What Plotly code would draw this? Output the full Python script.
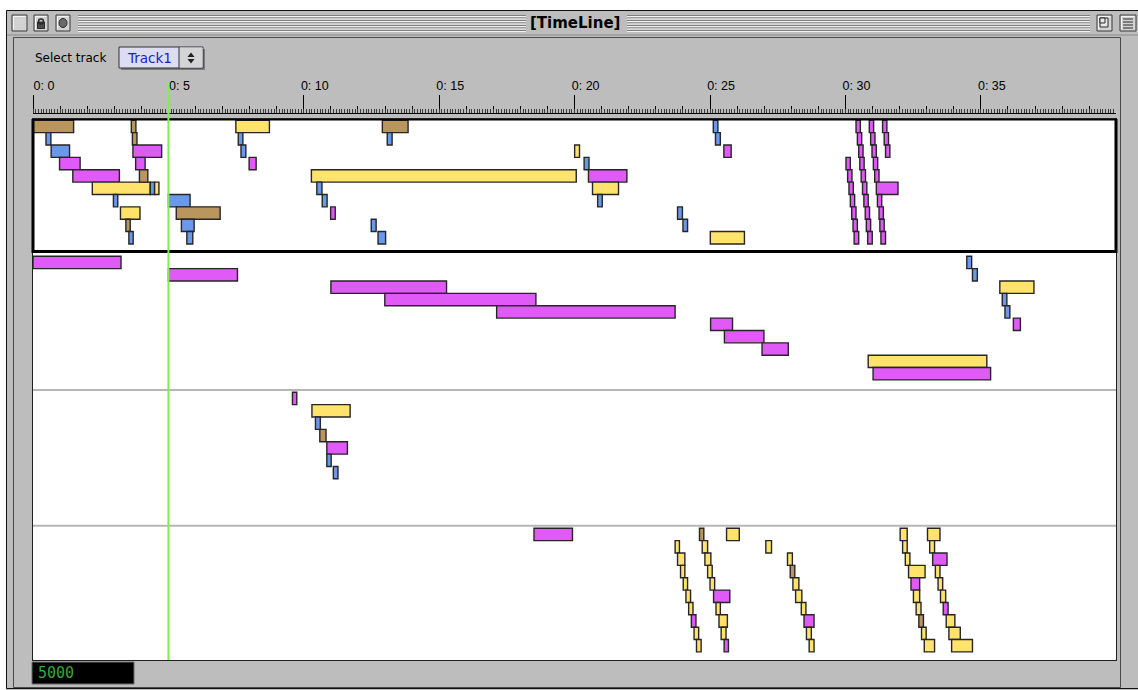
import plotly.graph_objects as go

# ------------------------------------------------------------------ data
TICK_VALS = [0, 5, 10, 15, 20, 25, 30, 35]
TICK_TEXT = ["0: 0", "0: 5", "0: 10", "0: 15", "0: 20", "0: 25", "0: 30", "0: 35"]
PLAYHEAD = 5.0
COUNTER = "5000"
TRACK_NAME = "Track1"
TIME_MAX = 39.99

# Track 1
T1_START = [0.00, 0.48, 0.67, 0.98, 1.47, 2.19, 4.33, 4.49, 2.97, 3.23, 3.43, 3.54,
            3.63, 3.67, 3.69, 3.79, 3.93, 5.00, 5.29, 5.48, 5.68, 7.49, 7.58, 7.68,
            7.98, 12.90, 13.08, 10.28, 10.48, 10.68, 10.99, 12.49, 12.74, 20.00, 20.35,
            20.51, 20.66, 20.85, 23.80, 24.00, 25.01, 25.12, 25.20, 25.51,
            30.02, 30.08, 30.13, 30.18, 30.23, 30.28, 30.32,
            30.39, 30.44, 30.49, 30.53, 30.58, 30.63, 30.68, 30.73, 30.77, 30.82,
            30.88, 30.93, 30.98, 31.03, 31.08, 31.14, 31.18, 31.24, 31.27, 31.31,
            31.37, 31.43, 31.48]
T1_END = [1.50, 0.66, 1.35, 1.74, 3.19, 4.33, 4.49, 4.65, 3.13, 3.95, 3.59, 3.70,
          3.80, 3.84, 4.75, 4.14, 4.24, 5.80, 6.91, 5.95, 5.90, 8.73, 7.75, 7.86,
          8.24, 13.85, 13.26, 20.06, 10.67, 10.86, 11.16, 12.67, 13.02, 20.18, 20.53,
          21.93, 21.62, 21.02, 23.98, 24.17, 26.27, 25.29, 25.38, 25.78,
          30.18, 30.24, 30.29, 30.34, 30.39, 30.44, 30.49,
          30.55, 30.60, 30.65, 30.69, 30.74, 30.79, 30.84, 30.89, 30.93, 30.99,
          31.04, 31.09, 31.14, 31.19, 31.24, 31.94, 31.34, 31.40, 31.43, 31.48,
          31.53, 31.59, 31.64]
T1_ROW = [0, 1, 2, 3, 4, 5, 5, 5, 6, 7, 8, 9,
          0, 1, 2, 3, 4, 6, 7, 8, 9, 0, 1, 2,
          3, 0, 1, 4, 5, 6, 7, 8, 9, 2, 3,
          4, 5, 6, 7, 8, 9, 0, 1, 2,
          3, 4, 5, 6, 7, 8, 9,
          0, 1, 2, 3, 4, 5, 6, 7, 8, 9,
          0, 1, 2, 3, 4, 5, 6, 7, 8, 9,
          0, 1, 2]
T1_KIND = ["B", "L", "L", "M", "M", "Y", "L", "Y", "L", "Y", "B", "L",
           "B", "B", "M", "M", "B", "L", "B", "L", "L", "Y", "L", "L",
           "M", "B", "L", "Y", "L", "L", "M", "L", "L", "Y", "L",
           "M", "Y", "L", "L", "L", "Y", "L", "L", "M",
           "M", "M", "M", "M", "M", "M", "M",
           "M", "M", "M", "M", "M", "M", "M", "M", "M", "M",
           "M", "M", "M", "M", "M", "M", "M", "M", "M", "M",
           "M", "M", "M"]

# Track 2
T2_START = [0.00, 5.00, 11.00, 12.99, 17.12, 25.02, 25.53, 26.92, 30.84, 31.02,
            34.48, 34.69, 35.70, 35.79, 35.89, 36.20]
T2_END = [3.25, 7.55, 15.27, 18.57, 23.71, 25.83, 26.99, 27.89, 35.22, 35.36,
          34.66, 34.87, 36.96, 35.96, 36.07, 36.46]
T2_ROW = [0, 1, 2, 3, 4, 5, 6, 7, 8, 9, 0, 1, 2, 3, 4, 5]
T2_KIND = ["M", "M", "M", "M", "M", "M", "M", "M", "Y", "M", "L", "L", "Y", "L", "L", "M"]

# Track 3
T3_START = [9.58, 10.30, 10.43, 10.59, 10.85, 10.85, 11.09]
T3_END = [9.74, 11.71, 10.61, 10.82, 11.61, 11.01, 11.26]
T3_ROW = [0, 1, 2, 3, 4, 5, 6]
T3_KIND = ["M", "Y", "L", "B", "M", "L", "L"]

# Track 4
T4_START = [18.50, 24.61, 25.61, 27.06,
            23.71, 23.80, 23.91, 24.01, 24.11, 24.21, 24.31, 24.41, 24.50,
            24.71, 24.81, 24.91, 25.00, 25.13, 25.22, 25.33, 25.41, 25.52,
            27.86, 27.96, 28.06, 28.16, 28.37, 28.47, 28.56, 28.66,
            32.02, 32.11, 32.21, 32.33, 32.42, 32.51, 32.61, 32.71, 32.81, 32.91,
            33.03, 33.11, 33.22, 33.32, 33.42, 33.51, 33.61, 33.72, 33.82, 33.92]
T4_END = [19.92, 24.77, 26.08, 27.27,
          23.87, 24.07, 24.07, 24.17, 24.28, 24.37, 24.48, 24.58, 24.67,
          24.91, 25.03, 25.08, 25.17, 25.73, 25.38, 25.64, 25.59, 25.68,
          28.04, 28.13, 28.28, 28.39, 28.54, 28.84, 28.74, 28.84,
          32.28, 32.28, 32.38, 32.94, 32.74, 32.74, 32.79, 32.88, 32.98, 33.29,
          33.49, 33.29, 33.75, 33.49, 33.59, 33.70, 33.79, 34.04, 34.24, 34.69]
T4_ROW = [0, 0, 0, 1,
          1, 2, 3, 4, 5, 6, 7, 8, 9,
          1, 2, 3, 4, 5, 6, 7, 8, 9,
          2, 3, 4, 5, 6, 7, 8, 9,
          0, 1, 2, 3, 4, 5, 6, 7, 8, 9,
          0, 1, 2, 3, 4, 5, 6, 7, 8, 9]
T4_KIND = ["M", "B", "Y", "Y",
           "Y", "Y", "Y", "Y", "Y", "Y", "M", "Y", "Y",
           "Y", "Y", "Y", "Y", "M", "Y", "Y", "Y", "M",
           "Y", "B", "Y", "Y", "Y", "M", "Y", "Y",
           "Y", "Y", "Y", "Y", "M", "Y", "Y", "B", "Y", "Y",
           "Y", "Y", "M", "Y", "Y", "Y", "M", "Y", "Y", "Y"]

COLORS = {"B": "#b8965e", "L": "#6a98ea", "M": "#e05af8", "Y": "#ffe36c"}

TRACKS = [
    (T1_START, T1_END, T1_ROW, T1_KIND),
    (T2_START, T2_END, T2_ROW, T2_KIND),
    (T3_START, T3_END, T3_ROW, T3_KIND),
    (T4_START, T4_END, T4_ROW, T4_KIND),
]

# ------------------------------------------------------------------ geometry
W, H = 1138, 690
ML, MR, MT, MB = 33, 22, 113, 30
PW = W - ML - MR
PH = H - MT - MB
DATA_TOP = 119
Y_DOMAIN_TOP = (H - MB - DATA_TOP) / PH
ROWS_PER_TRACK = 11
ROW_OFFSET = 0.105
Y_MAX = 43.76
GRAY = "#bdbdbd"


def px(x):
    return (x - ML) / PW


def py(y):
    return (H - MB - y) / PH


fig = go.Figure()

for k, (st, en, rw, kd) in enumerate(TRACKS):
    fig.add_trace(go.Bar(
        orientation="h",
        base=st,
        x=[e - s for s, e in zip(st, en)],
        y=[ROWS_PER_TRACK * k + ROW_OFFSET + r + 0.5 for r in rw],
        width=1.0,
        marker=dict(color=[COLORS[c] for c in kd],
                    line=dict(color="#262626", width=1.4)),
        hoverinfo="skip",
        showlegend=False,
    ))

# dummy traces so the ruler axes exist
for ax in ["x2", "x3", "x4"]:
    fig.add_trace(go.Scatter(x=[0, TIME_MAX], y=[-5, -5], xaxis=ax, yaxis="y",
                             mode="lines", line=dict(width=0), hoverinfo="skip",
                             showlegend=False))

shapes = []


def rect(x0, y0, x1, y1, fill=None, line=None, lw=1, layer="above"):
    d = dict(type="rect", xref="paper", yref="paper",
             x0=px(x0), x1=px(x1), y0=py(y0), y1=py(y1), layer=layer,
             line=dict(width=lw if line else 0, color=line or "rgba(0,0,0,0)"))
    d["fillcolor"] = fill if fill else "rgba(0,0,0,0)"
    shapes.append(d)


def hline(x0, x1, y, color, lw=1):
    shapes.append(dict(type="line", xref="paper", yref="paper",
                       x0=px(x0), x1=px(x1), y0=py(y), y1=py(y),
                       line=dict(color=color, width=lw)))


def vline(x, y0, y1, color, lw=1):
    shapes.append(dict(type="line", xref="paper", yref="paper",
                       x0=px(x), x1=px(x), y0=py(y0), y1=py(y1),
                       line=dict(color=color, width=lw)))


# outside of window (white)
rect(-1, -1, W + 1, 10, fill="white")
rect(-1, -1, 6, H + 1, fill="white")
# window outline
rect(6.5, 10.5, W + 2, H - 1.5, line="#101010", lw=1)
# content frame
rect(13.5, 37.5, 1120.5, 687.5, line="#4a4a4a", lw=1)
hline(7, W, 35, "#8a8a8a", 1)

# title bar stripes
for i in range(7):
    yy = 15.5 + i * 2.5
    hline(78, 526, yy, "#7e7e7e", 1)
    hline(78, 526, yy + 1, "#f2f2f2", 1)
    hline(627, 1090, yy, "#7e7e7e", 1)
    hline(627, 1090, yy + 1, "#f2f2f2", 1)

# title bar boxes
for (a, b) in [(12, 27), (34, 48), (56, 70), (1097, 1112), (1120, 1136)]:
    rect(a, 15, b, 31, fill="#d2d2d2", line="#3a3a3a", lw=1)
    hline(a + 1.5, b - 1.5, 16.5, "#f4f4f4", 1)
    vline(a + 1.5, 16.5, 29.5, "#f4f4f4", 1)
# lock icon
rect(37.5, 22, 44.5, 28.5, fill="#4a4a4a", line="#2a2a2a")
shapes.append(dict(type="circle", xref="paper", yref="paper",
                   x0=px(38.5), x1=px(43.5), y0=py(19), y1=py(24),
                   line=dict(color="#2a2a2a", width=1.5)))
# collapse icon
shapes.append(dict(type="circle", xref="paper", yref="paper",
                   x0=px(59), x1=px(67), y0=py(18.5), y1=py(27.5),
                   fillcolor="#6a6a6a", line=dict(color="#2a2a2a", width=1)))
# right icons
rect(1100, 18, 1108, 27, fill="#e8e8e8", line="#2a2a2a")
rect(1100, 18, 1105, 23, fill="#e8e8e8", line="#2a2a2a")
for yy in [19, 22, 25, 28]:
    hline(1123, 1133, yy, "#2a2a2a", 1)

# dropdown
rect(121, 49, 205, 70, fill="#7a7a7a")
rect(119, 47, 203, 68, fill="#dcdcf2", line="#303030", lw=1)
rect(179, 47.5, 202.5, 67.5, fill="#d4d4d4")
vline(179, 47, 68, "#303030", 1)
shapes.append(dict(type="path", xref="paper", yref="paper",
                   path="M {} {} L {} {} L {} {} Z".format(px(187.5), py(57), px(194.5), py(57),
                                                           px(191), py(52.5)),
                   fillcolor="#202020", line=dict(width=0)))
shapes.append(dict(type="path", xref="paper", yref="paper",
                   path="M {} {} L {} {} L {} {} Z".format(px(187.5), py(59), px(194.5), py(59),
                                                           px(191), py(63.5)),
                   fillcolor="#202020", line=dict(width=0)))

# counter box
rect(32, 662, 134, 684, fill="#000000", line="#6a6a6a", lw=1)

# track separators
for yv in [21.92, 32.9]:
    shapes.append(dict(type="line", xref="paper", yref="y", x0=0, x1=1, y0=yv, y1=yv,
                       line=dict(color="#b6b6b6", width=2), layer="below"))
# selected track frame
shapes.append(dict(type="rect", xref="paper", yref="y", x0=0, x1=1, y0=0, y1=10.72,
                   line=dict(color="#000000", width=3), fillcolor="rgba(0,0,0,0)"))
# playhead
shapes.append(dict(type="line", xref="x", yref="paper", x0=PLAYHEAD, x1=PLAYHEAD,
                   y0=0, y1=py(82), line=dict(color="#7ef04e", width=2)))

annotations = [
    dict(text="[TimeLine]", x=px(575), y=py(23.5), xref="paper", yref="paper",
         xanchor="center", yanchor="middle", showarrow=False,
         font=dict(family="DejaVu Sans", size=15, color="#000000", weight="bold")),
    dict(text="Select track", x=px(33), y=py(58), xref="paper", yref="paper",
         xanchor="left", yanchor="middle", showarrow=False,
         font=dict(family="DejaVu Sans", size=12, color="#000000")),
    dict(text=TRACK_NAME, x=px(125), y=py(57.5), xref="paper", yref="paper",
         xanchor="left", yanchor="middle", showarrow=False,
         font=dict(family="DejaVu Sans", size=13.5, color="#1c1cc8")),
    dict(text=COUNTER, x=px(36), y=py(673), xref="paper", yref="paper",
         xanchor="left", yanchor="middle", showarrow=False,
         font=dict(family="DejaVu Sans Mono", size=15, color="#35a835")),
]

common_hidden = dict(showgrid=False, zeroline=False)

fig.update_layout(
    width=W, height=H,
    margin=dict(l=ML, r=MR, t=MT, b=MB, pad=0),
    paper_bgcolor=GRAY, plot_bgcolor="#ffffff",
    showlegend=False, barmode="overlay",
    shapes=shapes, annotations=annotations,
    xaxis=dict(range=[0, TIME_MAX], showticklabels=False, ticks="", showline=True,
               linecolor="#202020", linewidth=1, mirror=True, fixedrange=True, **common_hidden),
    yaxis=dict(range=[Y_MAX, 0], domain=[0, Y_DOMAIN_TOP], showticklabels=False, ticks="",
               showline=True, linecolor="#202020", linewidth=1, mirror=True,
               fixedrange=True, **common_hidden),
    xaxis2=dict(overlaying="x", anchor="free", position=1, side="top",
                range=[0, TIME_MAX], tickmode="array", tickvals=TICK_VALS, ticktext=TICK_TEXT,
                ticks="outside", ticklen=18, tickwidth=1, tickcolor="#000000",
                showline=True, linecolor="#000000", linewidth=1,
                ticklabelshift=11, ticklabelstandoff=0,
                tickfont=dict(family="Liberation Sans", size=12.5, color="#000000"),
                **common_hidden),
    xaxis3=dict(overlaying="x", anchor="free", position=1, side="top",
                range=[0, TIME_MAX], tickmode="linear", tick0=0, dtick=1,
                ticks="outside", ticklen=7, tickwidth=1, tickcolor="#000000",
                showticklabels=False, showline=False, **common_hidden),
    xaxis4=dict(overlaying="x", anchor="free", position=1, side="top",
                range=[0, TIME_MAX], tickmode="linear", tick0=0, dtick=0.1,
                ticks="outside", ticklen=4, tickwidth=1, tickcolor="#3a3a3a",
                showticklabels=False, showline=False, **common_hidden),
)

fig.write_html("out.html", config={"displayModeBar": False},
               post_script="document.body.style.margin='0';document.body.style.overflow='hidden';")
